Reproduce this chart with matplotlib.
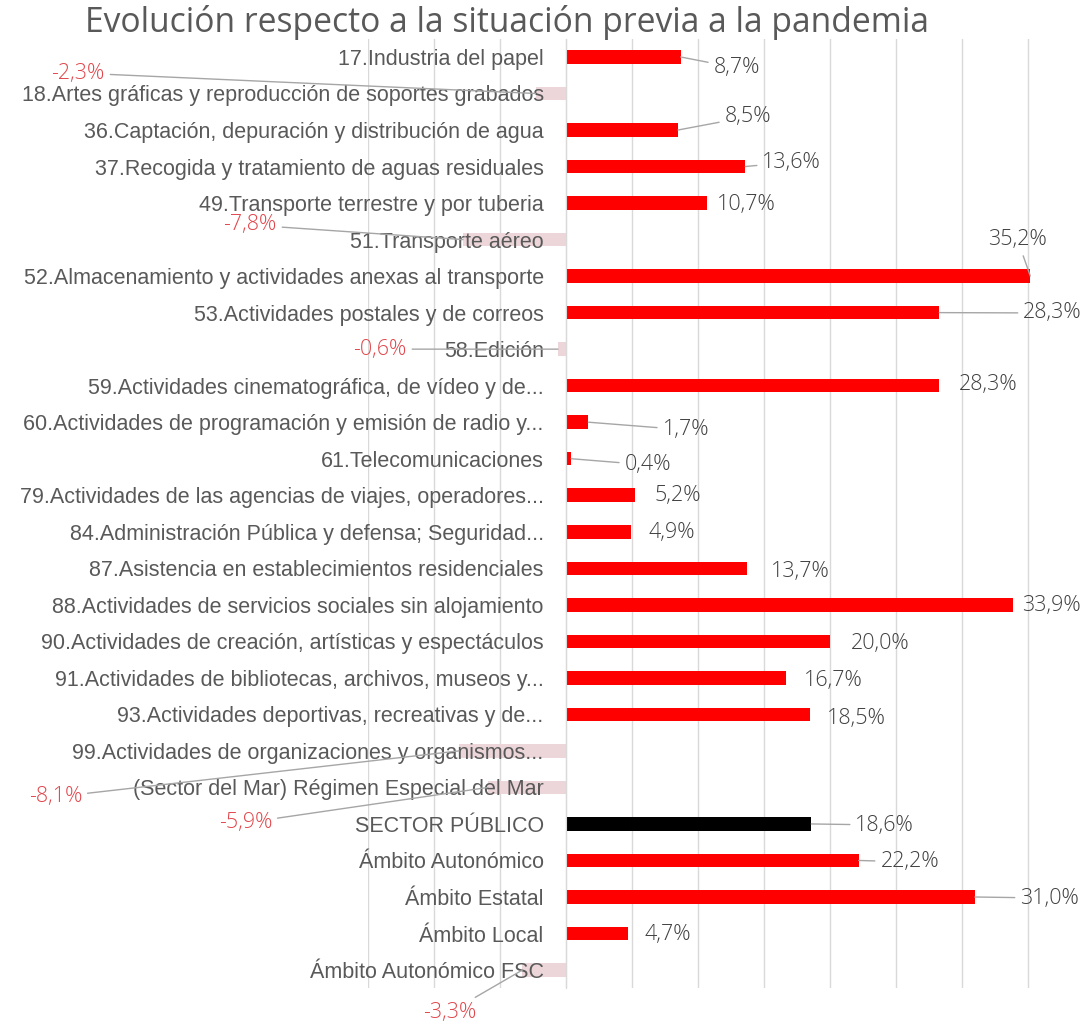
import matplotlib
matplotlib.use('Agg')
import matplotlib.pyplot as plt
from matplotlib import font_manager

categories = [
    "17.Industria del papel",
    "18.Artes gráficas y reproducción de soportes grabados",
    "36.Captación, depuración y distribución de agua",
    "37.Recogida y tratamiento de aguas residuales",
    "49.Transporte terrestre y por tuberia",
    "51.Transporte aéreo",
    "52.Almacenamiento y actividades anexas al transporte",
    "53.Actividades postales y de correos",
    "58.Edición",
    "59.Actividades cinematográfica, de vídeo y de...",
    "60.Actividades de programación y emisión de radio y...",
    "61.Telecomunicaciones",
    "79.Actividades de las agencias de viajes, operadores...",
    "84.Administración Pública y defensa; Seguridad...",
    "87.Asistencia en establecimientos residenciales",
    "88.Actividades de servicios sociales sin alojamiento",
    "90.Actividades de creación, artísticas y espectáculos",
    "91.Actividades de bibliotecas, archivos, museos y...",
    "93.Actividades deportivas, recreativas y de...",
    "99.Actividades de organizaciones y organismos...",
    "(Sector del Mar) Régimen Especial del Mar",
    "SECTOR PÚBLICO",
    "Ámbito Autonómico",
    "Ámbito Estatal",
    "Ámbito Local",
    "Ámbito Autonómico FSC",
]
values = [8.7, -2.3, 8.5, 13.6, 10.7, -7.8, 35.2, 28.3, -0.6, 28.3, 1.7, 0.4,
          5.2, 4.9, 13.7, 33.9, 20.0, 16.7, 18.5, -8.1, -5.9, 18.6, 22.2, 31.0,
          4.7, -3.3]
highlight = "SECTOR PÚBLICO"
title = "Evolución respecto a la situación previa a la pandemia"

# label layout (data coords) and whether a leader line is drawn
label_x = [12.95, -36.97, 13.79, 17.12, 13.64, -23.94, 34.24, 36.89, -14.09,
           31.97, 9.09, 6.21, 8.48, 8.03, 17.73, 36.82, 23.79, 20.23, 22.05,
           -38.7, -24.3, 24.17, 26.06, 36.67, 7.73, -8.79]
label_y = [0.30, 0.44, 1.64, 2.88, 4.05, 4.60, 5.01, 7.01, 8.00, 8.98, 10.21,
           11.17, 12.02, 13.01, 14.10, 15.03, 16.05, 17.06, 18.10, 20.26,
           20.97, 21.03, 22.04, 23.03, 24.04, 26.15]
leader = [1, 1, 1, 1, 0, 1, 1, 1, 1, 0, 1, 1, 0, 0, 0, 0, 0, 0, 0, 1, 1, 1, 1,
          1, 0, 1]

avail = {f.name for f in font_manager.fontManager.ttflist}
cat_font = 'Liberation Sans Narrow' if 'Liberation Sans Narrow' in avail else 'Liberation Sans'
lab_font = 'Open Sans'

W, H = 1091, 1023
fig = plt.figure(figsize=(W / 100, H / 100), dpi=100)
top_px, bot_px, left_px = 38.7, 988.3, 368
ax = fig.add_axes([left_px / W, 1 - bot_px / H, 1 - left_px / W, (bot_px - top_px) / H])

n = len(categories)
colors = []
for c, v in zip(categories, values):
    if c == highlight:
        colors.append('#000000')
    elif v < 0:
        colors.append('#ecd6da')
    else:
        colors.append('#ff0000')

ax.barh(range(n), values, height=0.37, color=colors, zorder=2)
ax.set_ylim(n - 0.5, -0.5)
ax.set_xlim(-15, 39.8)
ax.set_xticks(range(-15, 40, 5))
ax.tick_params(axis='x', length=0, labelbottom=False)
ax.grid(axis='x', color='#d9d9d9', lw=1)
ax.grid(axis='y', visible=False)
for s in ['top', 'right', 'bottom']:
    ax.spines[s].set_visible(False)
ax.spines['left'].set_position(('data', 0))
ax.spines['left'].set_color('#d9d9d9')
ax.set_yticks(range(n))
ax.set_yticklabels(categories, fontfamily=cat_font, fontsize=15.5, color='#595959')
ax.tick_params(axis='y', length=0, pad=16)
ax.yaxis.set_zorder(3)
ax.set_facecolor('none')

for i, v in enumerate(values):
    txt = f"{v:.1f}%".replace('.', ',')
    col = '#e0474c' if v < 0 else '#404040'
    props = dict(arrowstyle='-', color='#a6a6a6', lw=1, shrinkA=2, shrinkB=0) if leader[i] else None
    ax.annotate(txt, xy=(v, i), xytext=(label_x[i], label_y[i]), textcoords='data',
                ha='center', va='center', fontsize=15.5, color=col, family=lab_font,
                fontweight='light', arrowprops=props, annotation_clip=False, zorder=4)

fig.text(507 / W, 1 - 22 / H, title, ha='center', va='center', fontsize=24.2,
         color='#595959', family='Open Sans')

fig.savefig('out.png', dpi=100, facecolor='white')
